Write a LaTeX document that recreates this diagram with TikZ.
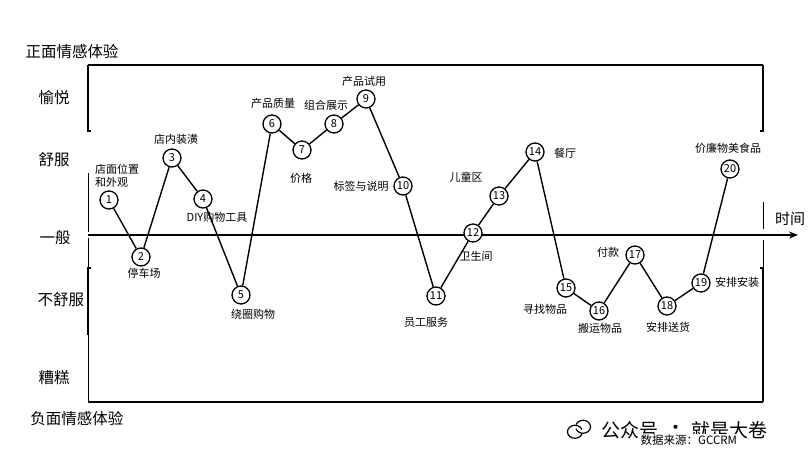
\documentclass[tikz,border=0pt]{standalone}
\usepackage{fontspec}
\setmainfont{Noto Sans CJK SC}
\usetikzlibrary{arrows.meta}
\tikzset{
  pt/.style={circle,draw,fill=white,line width=1.3pt,minimum size=18pt,inner sep=0pt,font=\fontsize{11}{12}\selectfont},
  lbl/.style={inner sep=0pt,font=\fontsize{11}{13}\selectfont},
  cat/.style={inner sep=0pt,font=\fontsize{15.5}{17}\selectfont},
  conn/.style={line width=1.4pt},
  frm/.style={line width=1.6pt},
  thin/.style={line width=0.8pt}
}
\begin{document}
\begin{tikzpicture}[x=1pt,y=-1pt]
\useasboundingbox (0,0) rectangle (809,468);
% frame
\coordinate (tl) at (88,65); \coordinate (tr) at (763,65);
\coordinate (bl) at (88,402); \coordinate (br) at (763,402);
\draw[line width=2pt] (tl) -- (tr);
\draw[frm] (bl) -- (br);
\draw[frm] (88,65) -- (88,131) -- (91,131);
\draw[thin] (88,173) -- (88,232);
\draw[thin] (88,238) -- (88,402);
\draw[frm] (91,268) -- (88,268) -- (88,335);
\draw[frm] (763,65) -- (763,131) -- (760,131);
\draw[thin] (763,202) -- (763,229);
\draw[thin] (763,240) -- (763,268);
\draw[frm] (760,268) -- (763,268) -- (763,402);
% axis
\coordinate (axL) at (88,235); \coordinate (axR) at (798,235);
\draw[line width=2pt,-{Stealth[length=9pt,width=7pt]}] (axL) -- (axR);
% category labels
\node[cat] (tpos) at (72,52) {正面情感体验};
\node[cat] (c1) at (54,98) {愉悦};
\node[cat] (c2) at (54,160) {舒服};
\node[cat] (c3) at (55,238) {一般};
\node[cat] (c4) at (61,300) {不舒服};
\node[cat] (c5) at (54,378) {糟糕};
\node[cat] (tneg) at (77,419) {负面情感体验};
\node[cat,font=\fontsize{15}{17}\selectfont] (time) at (790,219) {时间};
% points
\node[pt] (n1) at (109,200) {1};
\node[pt] (n2) at (141,257) {2};
\node[pt] (n3) at (172,158) {3};
\node[pt] (n4) at (203,199) {4};
\node[pt] (n5) at (241,295) {5};
\node[pt] (n6) at (272,124) {6};
\node[pt] (n7) at (302,150) {7};
\node[pt] (n8) at (334,124) {8};
\node[pt] (n9) at (366,99) {9};
\node[pt] (n10) at (403,186) {10};
\node[pt] (n11) at (436,296) {11};
\node[pt] (n12) at (473,233) {12};
\node[pt] (n13) at (499,196) {13};
\node[pt] (n14) at (535,152) {14};
\node[pt] (n15) at (566,288) {15};
\node[pt] (n16) at (599,311) {16};
\node[pt] (n17) at (635,255) {17};
\node[pt] (n18) at (667,306) {18};
\node[pt] (n19) at (701,283) {19};
\node[pt] (n20) at (730,169) {20};
\foreach \a/\b in {1/2,2/3,3/4,4/5,5/6,6/7,7/8,8/9,9/10,10/11,11/12,12/13,13/14,14/15,15/16,16/17,17/18,18/19,19/20}
  \draw[conn] (n\a) -- (n\b);
% point labels
\node[lbl,align=left,anchor=west] (l1) at (95,176) {店面位置\\和外观};
\node[lbl] (l2) at (144,273) {停车场};
\node[lbl] (l3) at (176,139) {店内装潢};
\node[lbl] (l4) at (217,217) {DIY购物工具};
\node[lbl] (l5) at (253,314) {绕圈购物};
\node[lbl] (l6) at (273,103) {产品质量};
\node[lbl] (l7) at (301,178) {价格};
\node[lbl] (l8) at (326,105) {组合展示};
\node[lbl] (l9) at (364,81) {产品试用};
\node[lbl] (l10) at (361,186) {标签与说明};
\node[lbl] (l11) at (426,322) {员工服务};
\node[lbl] (l12) at (476,256) {卫生间};
\node[lbl] (l13) at (466,177) {儿童区};
\node[lbl] (l14) at (565,153) {餐厅};
\node[lbl] (l15) at (545,309) {寻找物品};
\node[lbl] (l16) at (600,328) {搬运物品};
\node[lbl] (l17) at (608,252) {付款};
\node[lbl] (l18) at (668,327) {安排送货};
\node[lbl] (l19) at (737,282) {安排安装};
\node[lbl] (l20) at (728,148) {价廉物美食品};
% watermark
\draw[line width=1.2pt] (582,434) arc (20:340:7.5 and 6.5);
\draw[line width=1.2pt] (576,429) arc (160:-160:7.5 and 6.5);
\node[inner sep=0pt,anchor=west,font=\fontsize{19}{20}\selectfont] (wm1) at (601,430) {公众号};
\node[inner sep=0pt,font=\fontsize{19}{20}\selectfont] (wm2) at (676,430) {·};
\node[inner sep=0pt,anchor=west,font=\fontsize{19}{20}\selectfont] (wm3) at (691,430) {就是大卷};
\node[inner sep=0.5pt,fill=white,anchor=west,font=\fontsize{11.5}{12}\selectfont] (src) at (640,440) {数据来源：GCCRM};
\end{tikzpicture}
\end{document}
